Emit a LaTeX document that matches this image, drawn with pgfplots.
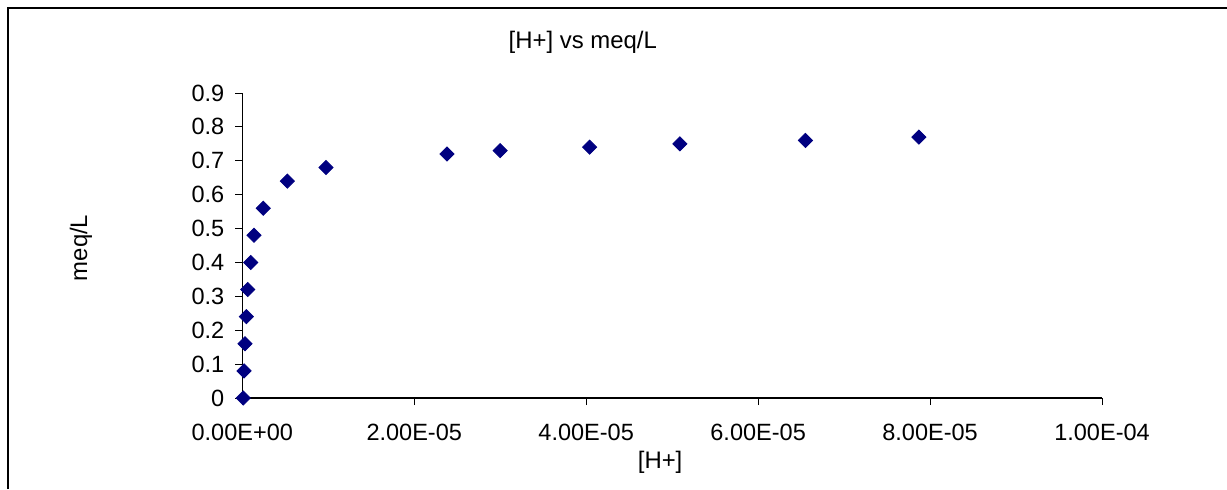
\documentclass[border=0pt]{standalone}
\usepackage{fontspec}
\setmainfont{Liberation Sans}
\usepackage{pgfplots}
\pgfplotsset{compat=1.18}
\definecolor{navy}{RGB}{0,0,128}
\begin{document}
\begin{tikzpicture}[x=1bp,y=1bp]
\path[use as bounding box] (0,0) rectangle (613.5,244.5);
\draw[line width=1.2bp] (4,0) -- (4,240.5) -- (613.5,240.5);
\begin{axis}[
  at={(121.15bp,45.5bp)}, anchor=south west,
  scale only axis, width=429.85bp, height=152.5bp,
  xmin=0, xmax=1e-4, ymin=0, ymax=0.9,
  axis x line*=bottom, axis y line*=left,
  axis line style={-, black, line width=0.6bp},
  xtick={0,2e-5,4e-5,6e-5,8e-5,1e-4},
  xticklabels={0.00E+00,2.00E-05,4.00E-05,6.00E-05,8.00E-05,1.00E-04},
  scaled x ticks=false,
  ytick={0,0.1,0.2,0.3,0.4,0.5,0.6,0.7,0.8,0.9},
  yticklabels={0,0.1,0.2,0.3,0.4,0.5,0.6,0.7,0.8,0.9},
  tick align=outside, major tick length=3.5bp,
  tick style={black, line width=0.5bp},
  tick label style={font=\fontsize{11.8}{14}\selectfont},
  yticklabel style={xshift=-2bp},
  xticklabel style={yshift=-6bp},
  clip=false,
]
\addplot[only marks, mark=square*, mark size=2.5bp,
  mark options={rotate=45, fill=navy, draw=navy}] coordinates {
  (1.2e-7,0) (2.0e-7,0.08) (3.1e-7,0.16) (4.7e-7,0.24) (6.3e-7,0.32)
  (9.8e-7,0.40) (1.36e-6,0.48) (2.44e-6,0.56) (5.23e-6,0.64) (9.73e-6,0.68)
  (2.38e-5,0.72) (3.0e-5,0.73) (4.04e-5,0.74) (5.09e-5,0.75) (6.55e-5,0.76) (7.87e-5,0.77)
};
\node[font=\fontsize{12}{14}\selectfont, anchor=center] at (axis description cs:0.396,1.167) {[H+] vs meq/L};
\node[font=\fontsize{12}{14}\selectfont, anchor=center] at (axis description cs:0.486,-0.210) {[H+]};
\node[font=\fontsize{12}{14}\selectfont, anchor=center, rotate=90] at (axis description cs:-0.1876,0.492) {meq/L};
\end{axis}
\end{tikzpicture}
\end{document}
